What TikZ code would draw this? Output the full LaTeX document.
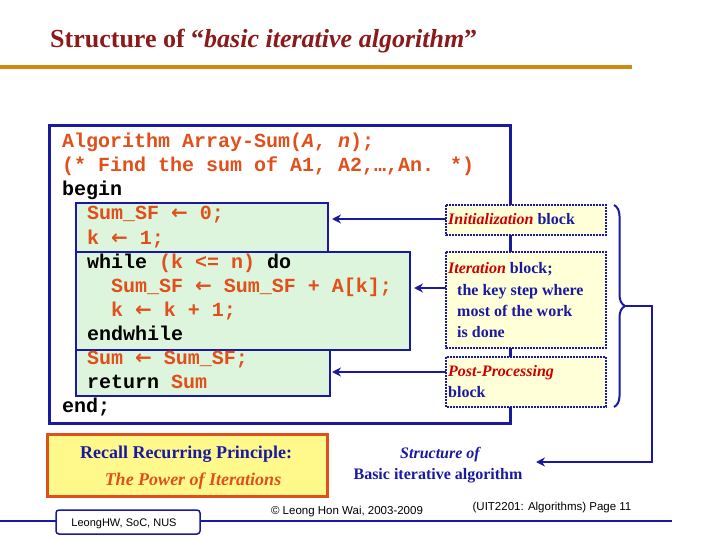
\documentclass[tikz,border=0pt]{standalone}
\usepackage{fontspec}
\setmainfont{Liberation Serif}
\newfontfamily\cm{Liberation Mono}
\newfontfamily\sa{Liberation Sans}
\newfontfamily\djv{DejaVu Sans}
\usetikzlibrary{decorations.pathreplacing,arrows.meta}
\definecolor{navy}{HTML}{1A1AA0}
\definecolor{ored}{HTML}{E0501C}
\definecolor{ttl}{HTML}{8B1A1A}
\definecolor{gold}{HTML}{D08A10}
\definecolor{pgreen}{HTML}{DDF5DD}
\definecolor{pyel}{HTML}{FFFFD8}
\newcommand{\arr}{{\djv\bfseries ←}}
\tikzset{
 code/.style={anchor=base west,inner sep=0,font=\cm\bfseries\fontsize{20}{22}\selectfont,text=ored},
 gbox/.style={draw=navy,line width=2.5pt,fill=pgreen},
 lbox/.style={draw=navy,line width=2pt,densely dotted,fill=pyel},
 lab/.style={anchor=base west,inner sep=0,font=\bfseries\fontsize{16}{18}\selectfont,text=navy},
 con/.style={navy,line width=2.5pt,-{Stealth[length=9pt,width=9pt]}}
}
\begin{document}
\begin{tikzpicture}[x=1pt,y=-1pt]
\useasboundingbox (0,0) rectangle (720,540);
\fill[white] (0,0) rectangle (720,540);
\node[anchor=base west,inner sep=0,text=ttl,font=\bfseries\fontsize{26}{28}\selectfont] (title) at (50,48) {Structure of “\textit{basic iterative algorithm}”};
\draw[gold,line width=4pt] (0,67) -- (632,67);
\draw[navy,line width=3pt] (49,126) rectangle (510,423);
\draw[gbox] (76,203) rectangle (328,253);
\draw[gbox] (76,347) rectangle (330,396);
\draw[gbox] (76,252) rectangle (410,350);
\node[code] (l1) at (62,148) {Algorithm Array-Sum(\textit{A}, \textit{n});};
\node[code] (l2) at (62,172) {(* Find the sum of A1, A2,…,An. *)};
\node[code,text=black] (l3) at (62,196) {begin};
\node[code] (l4) at (87,220) {Sum\_SF \arr{} 0;};
\node[code] (l5) at (87,244) {k \arr{} 1;};
\node[code] (l6) at (87,268) {\textcolor{black}{while} (k <= n) \textcolor{black}{do}};
\node[code] (l7) at (111,292) {Sum\_SF \arr{} Sum\_SF + A[k];};
\node[code] (l8) at (111,316) {k \arr{} k + 1;};
\node[code,text=black] (l9) at (87,340) {endwhile};
\node[code] (l10) at (87,364) {Sum \arr{} Sum\_SF;};
\node[code] (l11) at (87,388) {\textcolor{black}{return} Sum};
\node[code,text=black] (l12) at (62,412) {end;};
\draw[lbox] (446,205) rectangle (606,235) node[midway] (ib) {};
\draw[lbox] (446,252) rectangle (606,348) node[midway] (tb) {};
\draw[lbox] (446,357) rectangle (606,407) node[midway] (pb) {};
\node[lab] (t1) at (448,225) {\textcolor{red!80!black}{\textit{Initialization}} block};
\node[lab] (t2) at (448,273) {\textcolor{red!80!black}{\textit{Iteration}} block;};
\node[lab] (t3) at (457,295) {the key step where};
\node[lab] (t4) at (457,316) {most of the work};
\node[lab] (t5) at (457,337) {is done};
\node[lab] (t6) at (448,376) {\textcolor{red!80!black}{\textit{Post-Processing}}};
\node[lab] (t7) at (448,397) {block};
\coordinate (a1) at (446,219); \coordinate (b1) at (332,219);
\coordinate (a2) at (446,288); \coordinate (b2) at (414,288);
\coordinate (a3) at (446,372); \coordinate (b3) at (332,372);
\draw[con] (a1) -- (b1);
\draw[con] (a2) -- (b2);
\draw[con] (a3) -- (b3);
\draw[navy,line width=2pt,decorate,decoration={brace,amplitude=11pt}] (614,205) -- (614,407);
\coordinate (bt) at (625,306); \coordinate (bend1) at (652,306); \coordinate (bend2) at (652,462); \coordinate (bend3) at (536,462);
\draw[navy,line width=2.5pt] (bt) -- (bend1) -- (bend2) -- (560,462);
\draw[con] (560,462) -- (bend3);
\node[draw=ored,line width=3pt,fill=yellow!45,minimum width=280pt,minimum height=62pt,anchor=north west] (rec) at (46,433) {};
\node[anchor=base,inner sep=0,font=\bfseries\fontsize{18}{20}\selectfont,text=navy] (r1) at (186,458) {Recall Recurring Principle:};
\node[anchor=base,inner sep=0,font=\bfseries\itshape\fontsize{18}{20}\selectfont,text=ored] (r2) at (193,485) {The Power of Iterations};
\node[anchor=base,inner sep=0,font=\bfseries\itshape\fontsize{16}{18}\selectfont,text=navy] (s1) at (440,458) {Structure of};
\node[anchor=base,inner sep=0,font=\bfseries\fontsize{16}{18}\selectfont,text=navy] (s2) at (438,479) {Basic iterative algorithm};
\draw[navy,line width=1.5pt] (0,521) -- (672,521);
\draw[navy,line width=1.5pt,rounded corners=3pt,fill=white] (56,510) rectangle (200,534);
\node[inner sep=0,font=\sa\fontsize{11}{12}\selectfont] (f1) at (124,524) {LeongHW, SoC, NUS};
\node[inner sep=0,font=\sa\fontsize{11.5}{12}\selectfont] (f2) at (347,512) {© Leong Hon Wai, 2003-2009};
\node[inner sep=0,font=\sa\fontsize{11.5}{12}\selectfont] (f3) at (552,508) {(UIT2201: Algorithms) Page 11};
\end{tikzpicture}
\end{document}
